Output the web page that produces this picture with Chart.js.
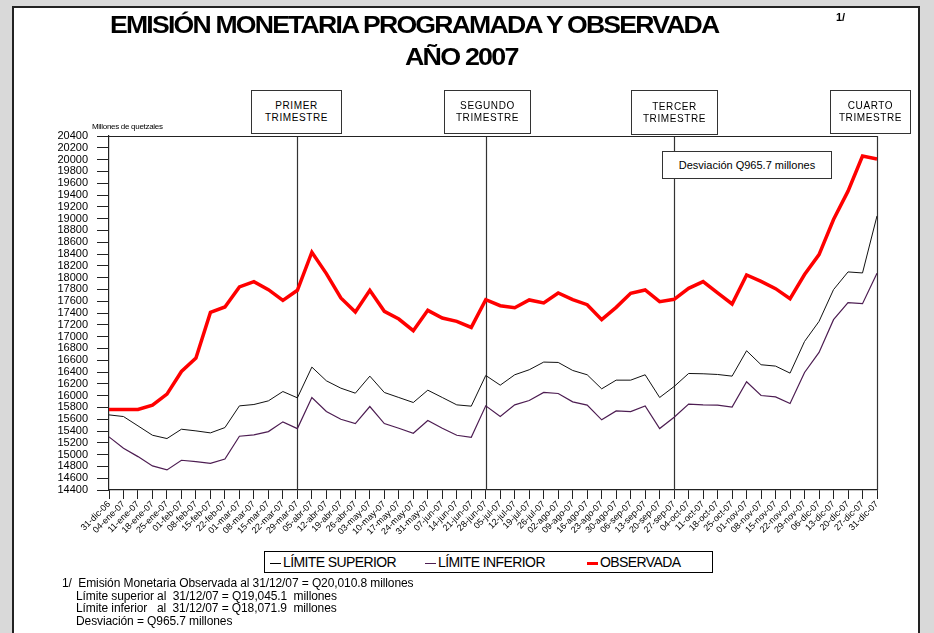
<!DOCTYPE html>
<html>
<head>
<meta charset="utf-8">
<script src="https://cdn.jsdelivr.net/npm/chart.js@4/dist/chart.umd.min.js"></script>
<style>
  html, body { margin: 0; padding: 0; }
  body { width: 934px; height: 633px; background: #d9d9d9; position: relative; overflow: hidden;
         font-family: "Liberation Sans", Arial, sans-serif; color: #000; }
  #panel { position: absolute; left: 12px; top: 6px; width: 908px; height: 640px; background: #fff;
           border: 2px solid #222; box-sizing: border-box; }
  #chartBox { position: absolute; left: 0; top: 0; width: 934px; height: 633px; }
  .abs { position: absolute; white-space: nowrap; }
  .title { font-weight: bold; font-size: 24px; letter-spacing: -1.6px; transform-origin: left top; }
  .qbox { position: absolute; background: #fff; border: 1px solid #333; box-sizing: border-box;
          font-size: 10px; letter-spacing: 0.6px; text-align: center; line-height: 12px; padding-top: 9px; }
  #legend { position: absolute; left: 264px; top: 551px; width: 449px; height: 22px; border: 1px solid #000;
            box-sizing: border-box; background: #fff; font-size: 14px; letter-spacing: -0.6px; }
  #legend span.sw { display: inline-block; width: 11px; vertical-align: middle; margin-right: 2px; }
  #legend div.it { position: absolute; top: 2px; }
  #notes { position: absolute; left: 62px; top: 577px; font-size: 12px; line-height: 12.6px; letter-spacing: -0.1px; }
</style>
</head>
<body>
<div id="panel"></div>
<div id="chartBox"><canvas id="chart" width="934" height="633"></canvas></div>

<div class="abs title" id="t1" style="left:110px; top:11px;">EMISIÓN MONETARIA PROGRAMADA Y OBSERVADA</div>
<div class="abs title" id="t2" style="left:405px; top:43px;">AÑO 2007</div>
<div class="abs" style="left:836px; top:11px; font-size:11px; font-weight:bold;">1/</div>

<div class="qbox" style="left:251px; top:90px; width:91px; height:44px;">PRIMER<br>TRIMESTRE</div>
<div class="qbox" style="left:444px; top:90px; width:87px; height:44px;">SEGUNDO<br>TRIMESTRE</div>
<div class="qbox" style="left:631px; top:90px; width:87px; height:45px; padding-top:10px;">TERCER<br>TRIMESTRE</div>
<div class="qbox" style="left:830px; top:90px; width:81px; height:44px;">CUARTO<br>TRIMESTRE</div>

<div class="abs" style="left:92px; top:122px; font-size:8px; letter-spacing:-0.3px;">Millones de quetzales</div>

<div class="qbox" style="left:662px; top:151px; width:170px; height:28px; font-size:11px; letter-spacing:0; padding-top:7px;">Desviación Q965.7 millones</div>

<div id="legend">
  <div class="it" style="left:5px;"><span class="sw" style="border-top:1px solid #000;"></span>LÍMITE SUPERIOR</div>
  <div class="it" style="left:160px;"><span class="sw" style="border-top:1.5px solid #4d1d52;"></span>LÍMITE INFERIOR</div>
  <div class="it" style="left:322px;"><span class="sw" style="border-top:3px solid #ff0000;"></span>OBSERVADA</div>
</div>

<div id="notes">
  1/&nbsp; Emisión Monetaria Observada al 31/12/07 = Q20,010.8 millones<br>
  <span style="padding-left:14px">Límite superior al&nbsp; 31/12/07 = Q19,045.1&nbsp; millones</span><br>
  <span style="padding-left:14px">Límite inferior&nbsp;&nbsp; al&nbsp; 31/12/07 = Q18,071.9&nbsp; millones</span><br>
  <span style="padding-left:14px">Desviación = Q965.7 millones</span>
</div>

<script>
const fechas = ['31-dic-06','04-ene-07','11-ene-07','18-ene-07','25-ene-07','01-feb-07','08-feb-07','15-feb-07',
  '22-feb-07','01-mar-07','08-mar-07','15-mar-07','22-mar-07','29-mar-07','05-abr-07','12-abr-07','19-abr-07',
  '26-abr-07','03-may-07','10-may-07','17-may-07','24-may-07','31-may-07','07-jun-07','14-jun-07','21-jun-07',
  '28-jun-07','05-jul-07','12-jul-07','19-jul-07','26-jul-07','02-ago-07','09-ago-07','16-ago-07','23-ago-07',
  '30-ago-07','06-sep-07','13-sep-07','20-sep-07','27-sep-07','04-oct-07','11-oct-07','18-oct-07','25-oct-07',
  '01-nov-07','08-nov-07','15-nov-07','22-nov-07','29-nov-07','06-dic-07','13-dic-07','20-dic-07','27-dic-07','31-dic-07']

const limiteSuperior = [15673,15645,15487,15328,15272,15430,15402,15368,15458,15826,15849,15911,16069,15962,
  16483,16251,16126,16041,16330,16053,15968,15883,16092,15968,15843,15821,16341,16177,16353,16438,16568,
  16562,16426,16353,16115,16262,16262,16353,15968,16154,16375,16370,16358,16330,16760,16523,16500,16381,
  16918,17258,17796,18096,18079,19045]

const limiteInferior = [15300,15107,14966,14808,14740,14904,14881,14853,14926,15311,15334,15390,15555,15441,
  15968,15730,15600,15526,15815,15526,15447,15362,15577,15447,15328,15294,15826,15645,15843,15917,16053,
  16036,15894,15838,15589,15741,15730,15826,15441,15634,15855,15843,15838,15804,16234,16002,15979,15866,
  16392,16732,17287,17575,17558,18072]

const observada = [15765,15765,15765,15838,16025,16409,16636,17411,17502,17842,17932,17796,17615,17785,
  18430,18068,17655,17417,17785,17428,17298,17100,17445,17315,17258,17156,17626,17524,17490,17621,17570,
  17740,17626,17541,17287,17496,17733,17791,17592,17632,17818,17932,17740,17553,18045,17937,17813,17643,
  18051,18390,18985,19465,20060,20011]

const finTrimestre = ['29-mar-07','28-jun-07','27-sep-07','31-dic-07']

// fit title lines to the reference widths
function fitWidth(id, w) {
  const el = document.getElementById(id)
  el.style.transform = 'scaleX(' + (w / el.scrollWidth) + ')'
}
fitWidth('t1', 608)
fitWidth('t2', 113)

const trimestres = {
  id: 'trimestres',
  beforeDatasetsDraw(chart) {
    const { ctx, chartArea, scales } = chart
    ctx.save()
    ctx.strokeStyle = '#333'
    ctx.lineWidth = 1.2
    finTrimestre.forEach(f => {
      const x = Math.round(scales.x.getPixelForValue(fechas.indexOf(f))) + 0.5
      ctx.beginPath()
      ctx.moveTo(x, chartArea.top)
      ctx.lineTo(x, chartArea.bottom)
      ctx.stroke()
    })
    ctx.strokeStyle = '#222'
    ctx.lineWidth = 1
    ctx.beginPath()
    ctx.moveTo(chartArea.left, chartArea.top + 0.5)
    ctx.lineTo(chartArea.right, chartArea.top + 0.5)
    ctx.stroke()
    ctx.restore()
  }
}

new Chart(document.getElementById('chart'), {
  type: 'line',
  data: {
    labels: fechas,
    datasets: [{
      label: 'OBSERVADA',
      data: observada,
      borderColor: '#ff0000',
      borderWidth: 3.5,
      order: 0
    }, {
      label: 'LÍMITE SUPERIOR',
      data: limiteSuperior,
      borderColor: '#111',
      borderWidth: 1,
      order: 1
    }, {
      label: 'LÍMITE INFERIOR',
      data: limiteInferior,
      borderColor: '#4d1d52',
      borderWidth: 1.2,
      order: 2
    }]
  },
  options: {
    responsive: false,
    animation: false,
    devicePixelRatio: 1,
    elements: { point: { radius: 0 }, line: { tension: 0 } },
    layout: { padding: { left: 0, top: 136, right: 57, bottom: 80 } },
    plugins: { legend: { display: false }, tooltip: { enabled: false } },
    scales: {
      x: {
        offset: false,
        afterFit: s => { s.height = 63 },
        border: { color: '#222', width: 1.2 },
        grid: { drawOnChartArea: false, drawTicks: true, tickLength: 9, color: '#222' },
        ticks: { autoSkip: false, minRotation: 45, maxRotation: 45, padding: 0, color: '#000',
                 font: { family: 'Liberation Sans', size: 9 } }
      },
      y: {
        min: 14400,
        max: 20400,
        afterFit: s => { s.width = 109 },
        border: { color: '#222', width: 1.2 },
        grid: { drawOnChartArea: false, drawTicks: true, tickLength: 12, color: '#222' },
        ticks: { stepSize: 200, autoSkip: false, padding: 9, color: '#000',
                 font: { family: 'Liberation Sans', size: 11 },
                 callback: v => String(v) }
      }
    }
  },
  plugins: [trimestres]
})
</script>
</body>
</html>
